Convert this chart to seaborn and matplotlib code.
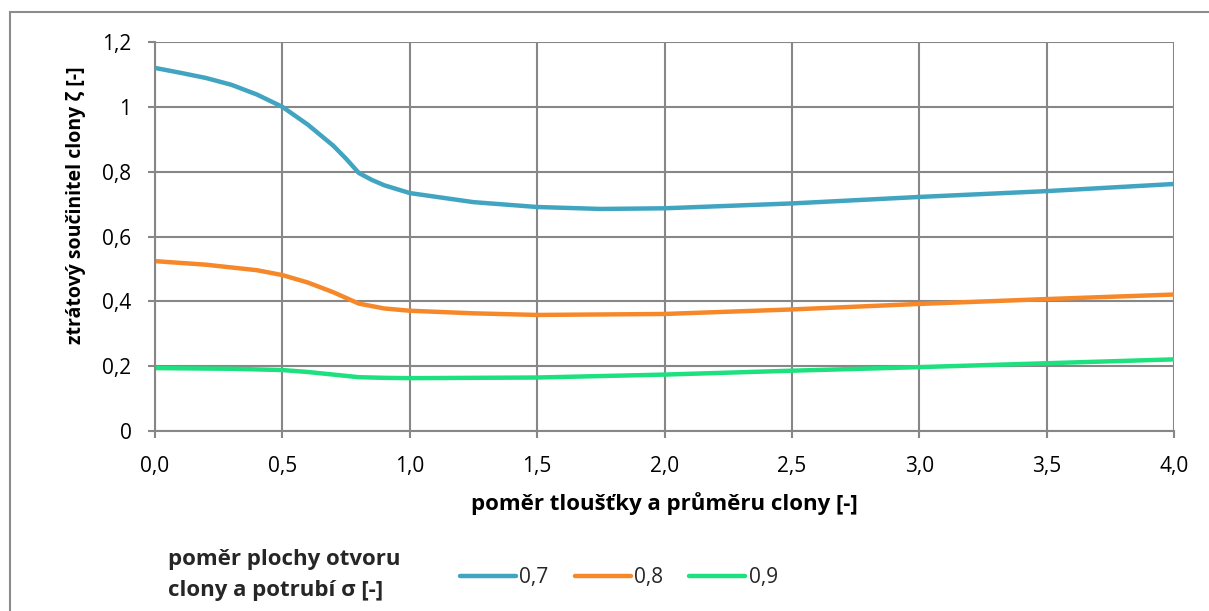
import numpy as np
import pandas as pd
import matplotlib
matplotlib.use("Agg")
import matplotlib.pyplot as plt
import seaborn as sns
from matplotlib.lines import Line2D
from matplotlib.patches import Rectangle
from matplotlib.ticker import FuncFormatter

# ---- data ----
x_07 = [0.0, 0.1, 0.2, 0.3, 0.4, 0.5, 0.6, 0.7, 0.75, 0.8, 0.85, 0.9, 1.0, 1.25, 1.5, 1.75, 2.0, 2.5, 3.0, 3.5, 4.0]
y_07 = [1.12, 1.105, 1.089, 1.068, 1.038, 1.0, 0.945, 0.88, 0.84, 0.796, 0.775, 0.758, 0.734, 0.706, 0.691, 0.685, 0.687, 0.702, 0.722, 0.740, 0.762]

x_08 = [0.0, 0.2, 0.4, 0.5, 0.6, 0.7, 0.8, 0.9, 1.0, 1.25, 1.5, 2.0, 2.5, 3.0, 3.5, 4.0]
y_08 = [0.524, 0.513, 0.496, 0.481, 0.458, 0.428, 0.393, 0.378, 0.371, 0.363, 0.358, 0.361, 0.375, 0.392, 0.407, 0.421]

x_09 = [0.0, 0.3, 0.5, 0.6, 0.7, 0.8, 0.9, 1.0, 1.5, 2.0, 2.5, 3.0, 3.5, 4.0]
y_09 = [0.194, 0.192, 0.188, 0.182, 0.174, 0.166, 0.164, 0.163, 0.165, 0.174, 0.186, 0.197, 0.209, 0.221]

series_labels = ["0,7", "0,8", "0,9"]
colors = ["#41A5C2", "#F6882A", "#1DE07F"]

x_ticks = [0.0, 0.5, 1.0, 1.5, 2.0, 2.5, 3.0, 3.5, 4.0]
y_ticks = [0.0, 0.2, 0.4, 0.6, 0.8, 1.0, 1.2]

x_label = "poměr tloušťky a průměru clony [-]"
y_label = "ztrátový součinitel clony ζ [-]"
legend_title = "poměr plochy otvoru\nclony a potrubí σ [-]"

df = pd.concat([
    pd.DataFrame({"x": x_07, "y": y_07, "s": series_labels[0]}),
    pd.DataFrame({"x": x_08, "y": y_08, "s": series_labels[1]}),
    pd.DataFrame({"x": x_09, "y": y_09, "s": series_labels[2]}),
], ignore_index=True)

sns.set_theme(style="white")
plt.rcParams["font.family"] = ["Open Sans", "DejaVu Sans"]

W, H = 1209, 611
fig = plt.figure(figsize=(W / 100, H / 100), dpi=100)
ax = fig.add_axes([155 / W, 1 - 431 / H, (1174 - 155) / W, (431 - 42) / H])

sns.lineplot(data=df, x="x", y="y", hue="s", palette=colors, linewidth=3.2,
             ax=ax, legend=False, sort=True, estimator=None)
for ln in ax.lines:
    ln.set_solid_joinstyle("round")
    ln.set_solid_capstyle("round")

ax.set_xlim(0, 4)
ax.set_ylim(0, 1.2)
ax.set_xticks(x_ticks)
ax.set_yticks(y_ticks)
ax.xaxis.set_major_formatter(FuncFormatter(lambda v, p: f"{v:.1f}".replace(".", ",")))
ax.yaxis.set_major_formatter(FuncFormatter(lambda v, p: (f"{v:g}").replace(".", ",")))

grid_c = "#878787"
ax.grid(True, color=grid_c, linewidth=1.5)
ax.set_axisbelow(True)
for side in ["top", "right"]:
    ax.spines[side].set_visible(False)
for side in ["left", "bottom"]:
    ax.spines[side].set_color(grid_c)
    ax.spines[side].set_linewidth(1.5)
ax.tick_params(axis="both", which="major", direction="out", length=5, width=1.5,
               color=grid_c, labelsize=15, labelcolor="#000000")
ax.tick_params(axis="x", pad=13, bottom=True)
ax.tick_params(axis="y", pad=12, left=True)

ax.set_xlabel(x_label, fontsize=16, fontweight="bold", color="#000000", labelpad=11)
ax.set_ylabel(y_label, fontsize=14, fontweight="bold", color="#000000",
              va="center", ha="center")
ax.yaxis.set_label_coords((76 - 155) / (1174 - 155), (431 - 205) / (431 - 42))

# outer chart frame
fig.patches.append(Rectangle((10 / W, -0.1), 1.2, 1 - 12 / H + 0.1, transform=fig.transFigure,
                             fill=False, edgecolor="#8C8C8C", linewidth=1.5))

# legend
fig.text(168 / W, 1 - 575 / H, legend_title, fontsize=16, fontweight="bold",
         va="center", ha="left", linespacing=1.6)
handles = [Line2D([0], [0], color=c, linewidth=3.2, solid_capstyle="round") for c in colors]
fig.legend(handles, series_labels, loc="center left",
           bbox_to_anchor=(460 / W, 1 - 578 / H), ncol=3, frameon=False,
           fontsize=15, handlelength=2.7, handletextpad=0.15, columnspacing=1.25,
           borderaxespad=0, borderpad=0)

fig.savefig("out.png", dpi=100)
